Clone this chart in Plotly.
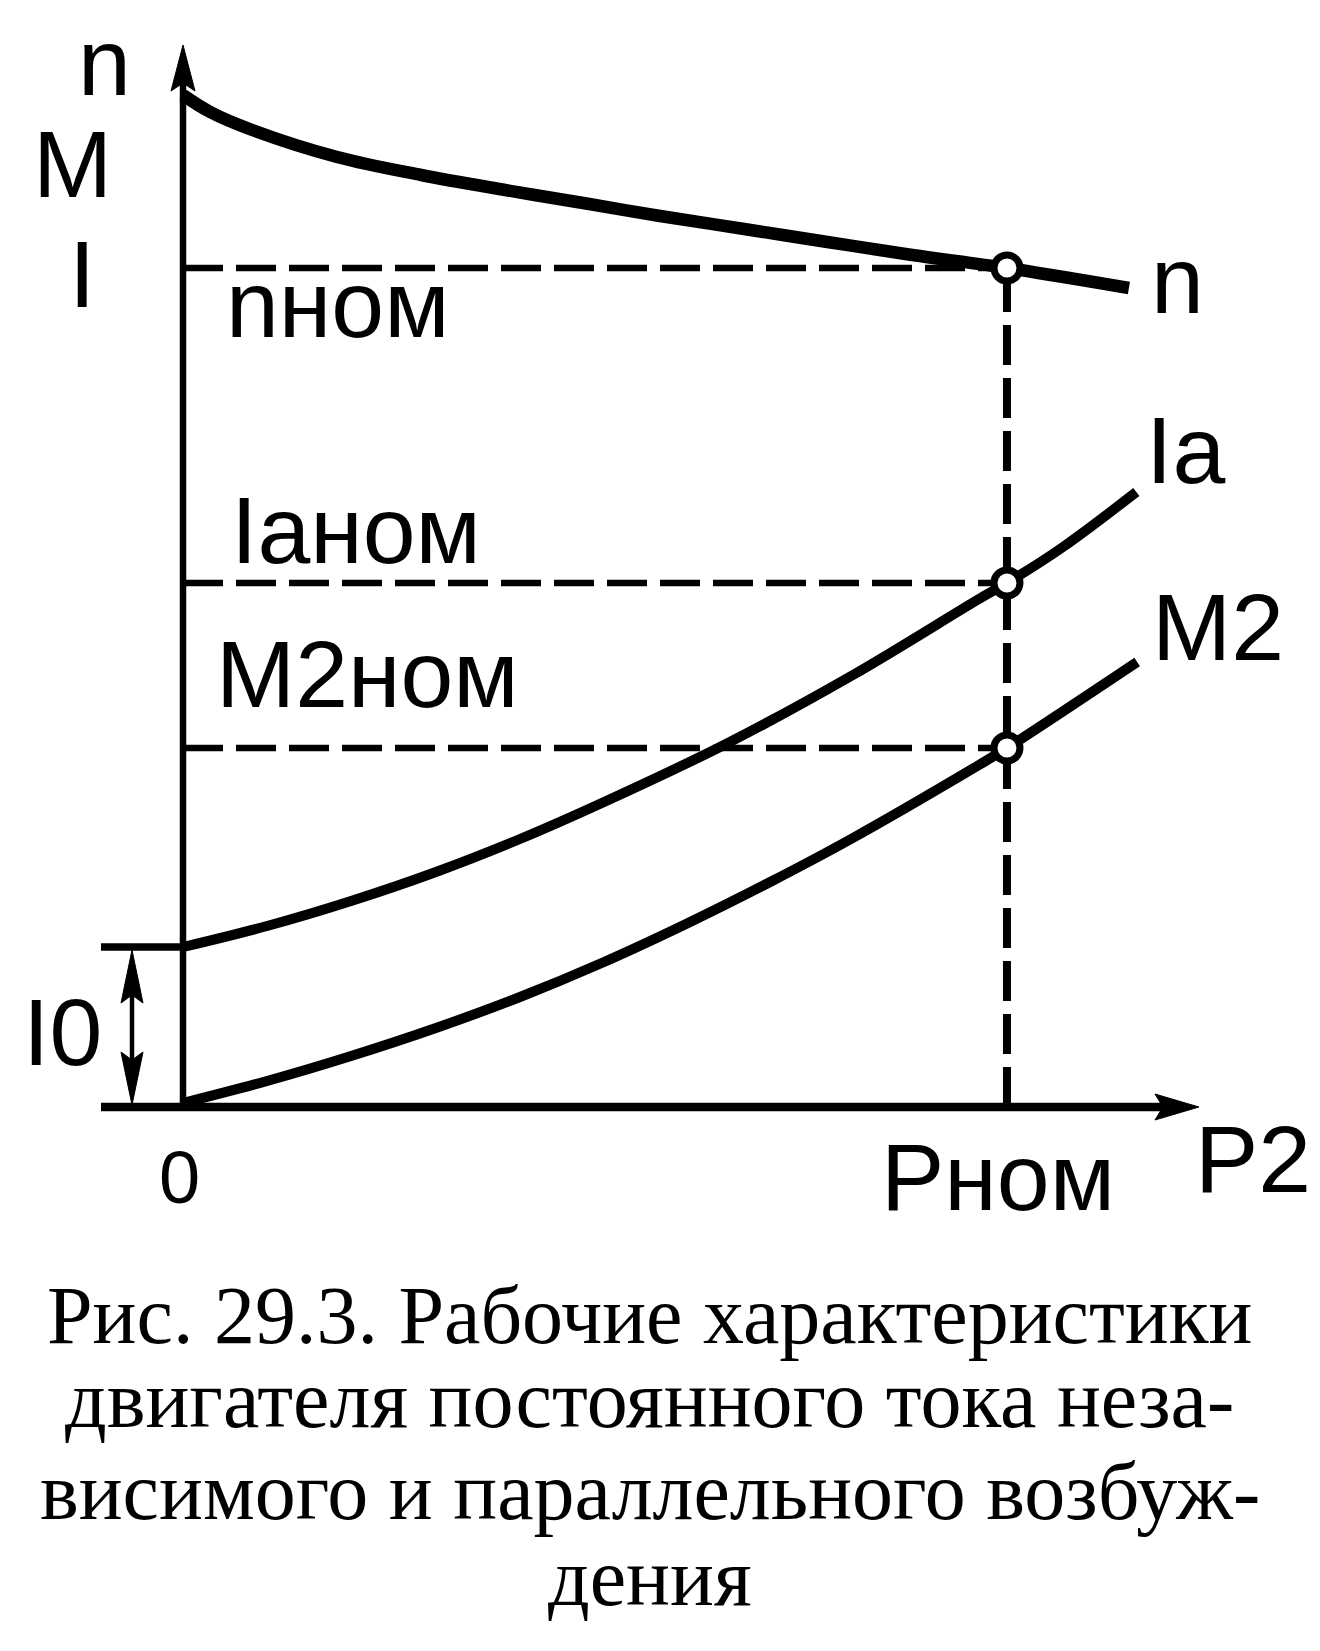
import plotly.graph_objects as go

# ---------------- data ----------------
# x: P2 in units of P_nom ; y: arbitrary common unit for n, M, I
P_n = [0.0, 0.033, 0.084, 0.187, 0.289, 0.391, 0.493, 0.579, 0.681, 0.782, 0.885, 1.0, 1.148]
n_vals = [10.12, 9.95, 9.77, 9.50, 9.32, 9.17, 9.03, 8.91, 8.78, 8.65, 8.52, 8.39, 8.19]

P_Ia = [0.0, 0.102, 0.204, 0.307, 0.409, 0.511, 0.659, 0.813, 0.966, 1.0, 1.068, 1.157]
Ia_vals = [1.60, 1.81, 2.06, 2.35, 2.68, 3.05, 3.63, 4.32, 5.08, 5.24, 5.60, 6.15]

P_M2 = [0.0, 0.102, 0.204, 0.307, 0.409, 0.511, 0.613, 0.715, 0.813, 0.966, 1.0, 1.158]
M2_vals = [0.04, 0.26, 0.51, 0.79, 1.10, 1.45, 1.84, 2.26, 2.69, 3.42, 3.59, 4.45]

P_NOM = 1.0
caption_lines = [
    "Рис. 29.3. Рабочие характеристики",
    "двигателя постоянного тока неза-",
    "висимого и параллельного возбуж-",
    "дения",
]

# ---------------- geometry helpers (layout only) ----------------
X_RANGE = [-0.2221, 1.3799]
Y_RANGE = [-5.44, 11.07]
W, H = 1320, 1651
PX_X = W / (X_RANGE[1] - X_RANGE[0])   # pixels per x unit
PX_Y = H / (Y_RANGE[1] - Y_RANGE[0])   # pixels per y unit


def dx(px):
    return px / PX_X


def dy(px):
    return px / PX_Y


n_nom = n_vals[P_n.index(P_NOM)]
Ia_nom = Ia_vals[P_Ia.index(P_NOM)]
M2_nom = M2_vals[P_M2.index(P_NOM)]
I0 = Ia_vals[0]

fig = go.Figure()

BLACK = "black"
DASH = "40px,13px"

# dashed guide lines
for lvl in (n_nom, Ia_nom, M2_nom):
    fig.add_trace(go.Scatter(x=[0, P_NOM], y=[lvl, lvl], mode="lines",
                             line=dict(color=BLACK, width=6.5, dash=DASH),
                             hoverinfo="skip", showlegend=False))
fig.add_trace(go.Scatter(x=[P_NOM, P_NOM], y=[0, n_nom], mode="lines",
                         line=dict(color=BLACK, width=8, dash=DASH),
                         hoverinfo="skip", showlegend=False))

# curves
fig.add_trace(go.Scatter(x=P_n, y=n_vals, mode="lines", name="n",
                         line=dict(color=BLACK, width=12.5, shape="spline", smoothing=1.0),
                         showlegend=False))
fig.add_trace(go.Scatter(x=P_Ia, y=Ia_vals, mode="lines", name="Ia",
                         line=dict(color=BLACK, width=10, shape="spline", smoothing=1.0),
                         showlegend=False))
fig.add_trace(go.Scatter(x=P_M2, y=M2_vals, mode="lines", name="M2",
                         line=dict(color=BLACK, width=10, shape="spline", smoothing=1.0),
                         showlegend=False))

# nominal points
fig.add_trace(go.Scatter(x=[P_NOM, P_NOM, P_NOM], y=[n_nom, Ia_nom, M2_nom], mode="markers",
                         marker=dict(symbol="circle", size=26, color="white",
                                     line=dict(color=BLACK, width=7)),
                         hoverinfo="skip", showlegend=False))

# ---------------- axes with arrows ----------------
x_left = -dx(82)
x_tip = P_NOM + dx(192)
y_tip = dy(1062)
shapes = []
# x axis
shapes.append(dict(type="line", x0=x_left, x1=x_tip - dx(30), y0=0, y1=0,
                   line=dict(color=BLACK, width=8.5), layer="below"))
shapes.append(dict(type="path",
                   path=f"M {x_tip},0 L {x_tip - dx(44)},{dy(13)} L {x_tip - dx(36)},0 "
                        f"L {x_tip - dx(44)},{-dy(13)} Z",
                   fillcolor=BLACK, line=dict(color=BLACK, width=1), layer="below"))
# y axis
shapes.append(dict(type="line", x0=0, x1=0, y0=0, y1=y_tip - dy(30),
                   line=dict(color=BLACK, width=6.5), layer="below"))
shapes.append(dict(type="path",
                   path=f"M 0,{y_tip} L {-dx(12)},{y_tip - dy(46)} L 0,{y_tip - dy(38)} "
                        f"L {dx(12)},{y_tip - dy(46)} Z",
                   fillcolor=BLACK, line=dict(color=BLACK, width=1), layer="below"))
# I0 tick
shapes.append(dict(type="line", x0=x_left, x1=0, y0=I0, y1=I0,
                   line=dict(color=BLACK, width=7.5), layer="below"))
# I0 double arrow
xa = -dx(51)
shapes.append(dict(type="line", x0=xa, x1=xa, y0=dy(20), y1=I0 - dy(20),
                   line=dict(color=BLACK, width=4.5), layer="below"))
shapes.append(dict(type="path",
                   path=f"M {xa},{I0 - dy(3)} L {xa - dx(11)},{I0 - dy(56)} L {xa},{I0 - dy(48)} "
                        f"L {xa + dx(11)},{I0 - dy(56)} Z",
                   fillcolor=BLACK, line=dict(color=BLACK, width=1), layer="below"))
shapes.append(dict(type="path",
                   path=f"M {xa},{dy(2)} L {xa - dx(11)},{dy(55)} L {xa},{dy(47)} "
                        f"L {xa + dx(11)},{dy(55)} Z",
                   fillcolor=BLACK, line=dict(color=BLACK, width=1), layer="below"))

# ---------------- labels ----------------
SANS = "Arial, Liberation Sans, sans-serif"
FS = 95
labels = [
    ("n", -0.130, 10.45, FS),
    ("M", -0.184, 9.43, FS),
    ("I", -0.141, 8.33, FS),
    ("nном", 0.050, 8.03, FS),
    ("Iaном", 0.056, 5.77, FS),
    ("M2ном", 0.038, 4.33, FS),
    ("n", 1.172, 8.27, FS),
    ("Ia", 1.166, 6.57, FS),
    ("M2", 1.174, 4.80, FS),
    ("I0", -0.197, 0.75, FS),
    ("0", -0.032, -0.70, 74),
    ("Pном", 0.845, -0.70, FS),
    ("P2", 1.226, -0.52, FS),
]
annotations = []
for txt, x, y, fs in labels:
    annotations.append(dict(text=txt, x=x, y=y, xref="x", yref="y",
                            xanchor="left", yanchor="middle", showarrow=False,
                            font=dict(family=SANS, size=fs, color=BLACK)))

SERIF = "Liberation Serif, Times New Roman, serif"
cap_y = [0.2035, 0.1523, 0.0968, 0.0448]
for txt, yy in zip(caption_lines, cap_y):
    annotations.append(dict(text=txt, x=0.4924, y=yy, xref="paper", yref="paper",
                            xanchor="center", yanchor="middle", showarrow=False,
                            font=dict(family=SERIF, size=82, color=BLACK)))

fig.update_layout(
    width=W, height=H,
    margin=dict(l=0, r=0, t=0, b=0),
    paper_bgcolor="white", plot_bgcolor="white",
    xaxis=dict(range=X_RANGE, visible=False, fixedrange=True),
    yaxis=dict(range=Y_RANGE, visible=False, fixedrange=True),
    shapes=shapes, annotations=annotations,
    showlegend=False,
)

fig.write_html(
    "out.html",
    config={"displayModeBar": False},
    post_script="document.body.style.margin='0px';document.body.style.padding='0px';",
)
